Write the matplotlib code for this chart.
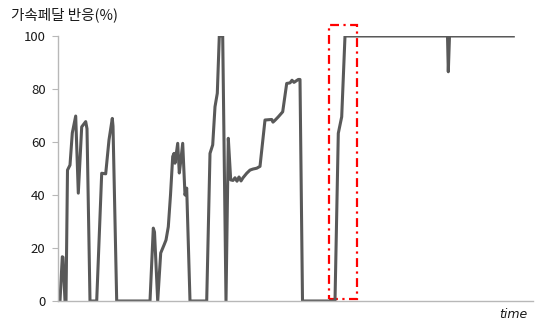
import matplotlib
matplotlib.use("Agg")
import matplotlib.pyplot as plt
from matplotlib.patches import Rectangle

plt.rcParams['font.family'] = ['Noto Sans CJK KR', 'DejaVu Sans']

# time index (arbitrary units) and accelerator pedal response (%)
time = [0, 2, 4.3, 5, 7, 8, 9.5, 12, 14.3, 17.7, 20.3, 23.7, 27.7, 29, 32,
        38.7, 43.7, 47.7, 51, 54.3, 55, 58.7,
        92, 95.3, 96.5, 99.7, 102.7, 106, 108, 110.3, 112.5, 114.7, 116, 117,
        119.7, 121.3, 122.5, 124.7, 127, 128.7, 132,
        148.7, 152, 154.7, 157, 159.3, 161.3, 164.7, 168, 170.3, 172.7, 175,
        177, 179, 181, 183, 185, 188.7, 192, 195, 198.7, 202, 207, 213.7, 215,
        217, 220.3, 224.7, 228.7, 232, 234, 236, 240.3, 242, 244.5,
        277, 280.3, 283.7, 287, 389.5, 390.3, 391.5, 455.3]
response = [0, 0, 16.7, 16.5, 0, 0, 49.4, 51.3, 63.4, 69.8, 40.7, 65.7, 67.7, 65, 0,
            0, 48.2, 48, 60.8, 68.9, 66, 0,
            0, 27.5, 26, 0, 18.1, 21.1, 23, 28, 40, 54.5, 55.7, 52,
            59.5, 48.3, 52, 59.5, 40, 42.6, 0,
            0, 55.7, 58.9, 73.3, 78.4, 100, 100, 0, 61.4, 45.7, 45.5,
            46.5, 45.2, 46.8, 45.3, 46.5, 48.2, 49.4, 49.8, 50.1, 50.8, 68.3, 68.5, 67.5,
            68.2, 69.5, 71.4, 82.1, 82.3, 83.3, 82.5, 83.6, 83.6, 0,
            0, 63.3, 69.5, 100, 100, 86.5, 100, 100]

yticks = [0, 20, 40, 60, 80, 100]
ylabel = "가속페달 반응(%)"
xlabel = "time"

# highlighted region (time span and response span)
box_t = [271.3, 299.3]
box_r = [0.6, 104.1]

fig = plt.figure(figsize=(5.35, 3.25), dpi=100)
ax = fig.add_axes([58/535, 1 - 301/325, 475/535, 265/325])

ax.plot(time, response, color='#595959', lw=2.2, solid_joinstyle='round')

ax.add_patch(Rectangle((box_t[0], box_r[0]), box_t[1] - box_t[0], box_r[1] - box_r[0],
                       fill=False, edgecolor='#ff0000', lw=1.6,
                       linestyle=(0, (4, 2, 1, 2)), clip_on=False))

ax.set_xlim(0, 475)
ax.set_ylim(0, 100)
ax.set_yticks(yticks)
ax.set_yticklabels([str(v) for v in yticks], fontsize=9.5, color='#1a1a1a')
ax.set_xticks([])
for s in ['top', 'right']:
    ax.spines[s].set_visible(False)
for s in ['left', 'bottom']:
    ax.spines[s].set_color('#b8b8b8')
    ax.spines[s].set_linewidth(1.0)
ax.tick_params(axis='y', length=4, color='#b8b8b8', pad=5)

fig.text(11/535, 1 - 15/325, ylabel, fontsize=10.5, color='#1a1a1a', va='center', ha='left')
fig.text(527/535, 1 - 315/325, xlabel, fontsize=9, style='italic', color='#1a1a1a',
         va='center', ha='right', family='DejaVu Sans')

fig.savefig('out.png', dpi=100)
